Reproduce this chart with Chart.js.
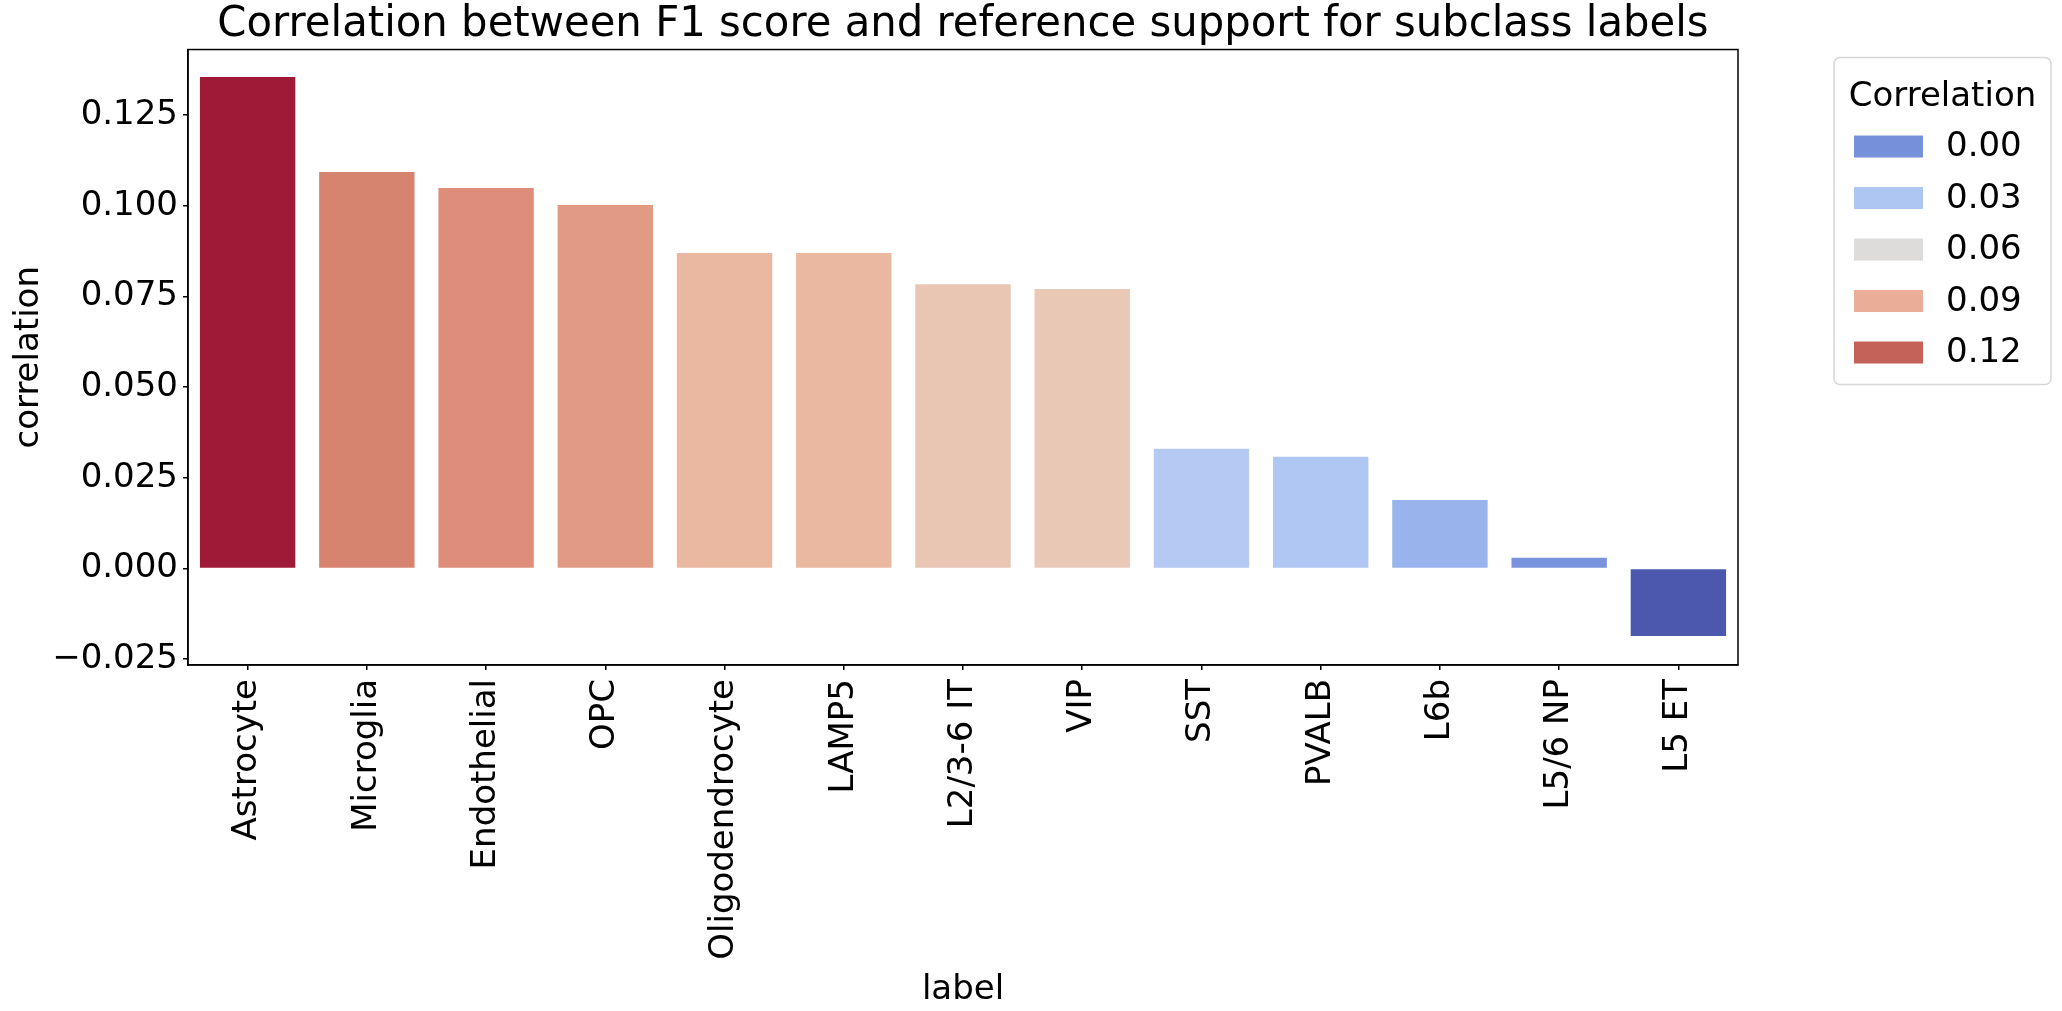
<!DOCTYPE html>
<html>
<head>
<meta charset="utf-8">
<script src="https://cdn.jsdelivr.net/npm/chart.js@4"></script>
<style>
  html, body { margin: 0; padding: 0; background: #fff; }
  #wrap { width: 2062px; height: 1011px; }
</style>
</head>
<body>
<div id="wrap"><canvas id="myChart" width="2062" height="1011"></canvas></div>
<script>
// data
var labels = ['Astrocyte', 'Microglia', 'Endothelial', 'OPC', 'Oligodendrocyte', 'LAMP5',
              'L2/3-6 IT', 'VIP', 'SST', 'PVALB', 'L6b', 'L5/6 NP', 'L5 ET'];
var correlation = [0.1355, 0.1093, 0.1049, 0.1002, 0.0870, 0.0870,
                   0.0784, 0.0771, 0.0330, 0.0308, 0.0189, 0.0030, -0.0186];
var barColors = ['#9e1a36', '#d6836f', '#de8d7a', '#e19a83', '#eab7a0', '#eab8a0',
                 '#e9c6b4', '#eac8b6', '#b5c9f2', '#afc7f2', '#99b3ec', '#7893dc', '#4b58ae'];
var yTicks = [-0.025, 0, 0.025, 0.05, 0.075, 0.1, 0.125];
var legendLabels = ['0.00', '0.03', '0.06', '0.09', '0.12'];
var legendColors = ['#7790da', '#aec6f2', '#dddcdb', '#eaae98', '#c4625a'];

Chart.defaults.font.family = "'DejaVu Sans', sans-serif";
Chart.defaults.color = '#000';

// black frame round the plot (matplotlib spines)
var framePlugin = {
    id: 'frame',
    afterDraw: function(chart) {
        var a = chart.chartArea;
        var ctx = chart.ctx;
        ctx.save();
        ctx.strokeStyle = '#000';
        ctx.lineWidth = 1.5;
        ctx.strokeRect(a.left, a.top, a.right - a.left, a.bottom - a.top);
        ctx.restore();
    }
};

// legend box to the right of the plot
var legendPlugin = {
    id: 'sideLegend',
    afterDraw: function(chart) {
        var a = chart.chartArea;
        var ctx = chart.ctx;
        var x = a.right + 96, y = a.top + 8, w = 217, h = 327;
        ctx.save();
        ctx.beginPath();
        ctx.roundRect(x, y, w, h, 6);
        ctx.fillStyle = 'rgba(255,255,255,0.8)';
        ctx.fill();
        ctx.strokeStyle = '#d6d6d6';
        ctx.lineWidth = 1.5;
        ctx.stroke();

        ctx.fillStyle = '#000';
        ctx.font = "34px 'DejaVu Sans'";
        ctx.textAlign = 'center';
        ctx.textBaseline = 'middle';
        ctx.fillText('Correlation', x + w / 2, y + 40);

        ctx.textAlign = 'left';
        for (var i = 0; i < legendLabels.length; i++) {
            var cy = y + 89 + i * 51.5;
            ctx.fillStyle = legendColors[i];
            ctx.fillRect(x + 20, cy - 11, 69, 22);
            ctx.fillStyle = '#000';
            ctx.fillText(legendLabels[i], x + 112, cy + 1);
        }
        ctx.restore();
    }
};

function fmtTick(v) {
    return v.toFixed(3).replace('-', '\u2212');
}

var ctx = document.getElementById('myChart').getContext('2d');
new Chart(ctx, {
    type: 'bar',
    data: {
        labels: labels,
        datasets: [{
            label: 'correlation',
            data: correlation,
            backgroundColor: barColors,
            borderWidth: 0,
            barPercentage: 0.8,
            categoryPercentage: 1.0
        }]
    },
    options: {
        responsive: false,
        devicePixelRatio: 1,
        animation: false,
        layout: { padding: { left: 0, right: 324, top: 0, bottom: 0 } },
        plugins: {
            legend: { display: false },
            tooltip: { enabled: false },
            title: {
                display: true,
                fullSize: false,
                text: 'Correlation between F1 score and reference support for subclass labels',
                font: { size: 41.8, weight: 'normal', lineHeight: 1.185 },
                padding: { top: 0, bottom: 0 },
                color: '#000'
            }
        },
        scales: {
            x: {
                grid: { offset: false, drawOnChartArea: false, drawTicks: true, tickLength: 5, color: '#000', lineWidth: 1.5 },
                border: { display: true, color: '#000', width: 1.5 },
                ticks: { font: { size: 34 }, minRotation: 90, maxRotation: 90, padding: 9, autoSkip: false, color: '#000' },
                title: { display: true, text: 'label', font: { size: 34 }, padding: { top: 14, bottom: 0 } },
                afterFit: function(scale) { scale.height = 346; }
            },
            y: {
                min: -0.0266,
                max: 0.1431,
                grid: { drawOnChartArea: false, drawTicks: true, tickLength: 5, color: '#000', lineWidth: 1.5 },
                border: { display: true, color: '#000', width: 1.5 },
                ticks: {
                    font: { size: 34 },
                    padding: 5,
                    color: '#000',
                    callback: function(v) { return fmtTick(v); }
                },
                afterBuildTicks: function(scale) {
                    scale.ticks = yTicks.map(function(v) { return { value: v }; });
                },
                title: { display: true, text: 'correlation', font: { size: 34 }, padding: { top: 9, bottom: 0 } },
                afterFit: function(scale) { scale.width = 188; }
            }
        }
    },
    plugins: [framePlugin, legendPlugin]
});
</script>
</body>
</html>
